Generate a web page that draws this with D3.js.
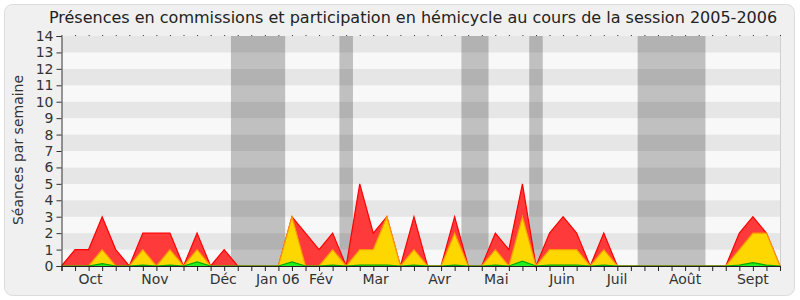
<!DOCTYPE html>
<html>
<head>
<meta charset="utf-8">
<script src="https://cdn.jsdelivr.net/npm/d3@7"></script>
<style>
  body { margin: 0; background: #fff; }
  svg { display: block; font-family: "DejaVu Sans", sans-serif; }
</style>
</head>
<body>
<svg id="chart" width="800" height="300"></svg>
<script>
// one value per week, session 2005-2006
var hemicycle  = [0,1,1,3,1,0,2,2,2,0,2,0,1,0,0,0,0,3,2,1,2,0,5,2,3,0,3,0,0,3,0,0,2,1,5,0,2,3,2,0,2,0,0,0,0,0,0,0,0,0,2,3,2,0];
var commission = [0,0,0,1,0,0,1,0,1,0,1,0,0,0,0,0,0,3,0,0,1,0,1,1,3,0,1,0,0,2,0,0,1,0,3,0,1,1,1,0,1,0,0,0,0,0,0,0,0,0,1,2,2,0];
var interventions = [0,0,0,0.15,0,0,0.05,0,0.05,0,0.25,0,0,0,0,0,0,0.25,0,0,0.05,0,0.05,0.05,0.05,0,0.05,0,0,0.05,0,0,0.05,0,0.3,0,0.05,0.05,0.05,0,0.05,0,0,0,0,0,0,0,0,0,0.05,0.2,0.05,0];
var vacances = [[13,16],[21,21],[30,31],[35,35],[43,47]];
var mois = ["Oct","Nov","Déc","Jan 06","Fév","Mar","Avr","Mai","Juin","Juil","Août","Sept"];
var moisPos = [2.14,6.89,11.93,15.96,19.14,23.17,27.9,32.07,36.92,40.98,46.0,51.0];
var yTicks = d3.range(0, 15);

var svg = d3.select("#chart");
var pLeft = 61.5, pRight = 780, pTop = 36, pBottom = 266;

svg.append("rect").attr("x", 4.5).attr("y", 4.5).attr("width", 790).attr("height", 291)
  .attr("rx", 8).attr("fill", "#f0f0f0").attr("stroke", "#dcdcdc");

var x = d3.scaleLinear().domain([0, hemicycle.length - 1]).range([pLeft, pRight]);
var y = d3.scaleLinear().domain([0, 14]).range([pBottom, pTop]);

// bandes de fond
svg.append("g").selectAll("rect").data(d3.range(0, 14)).enter().append("rect")
  .attr("x", pLeft).attr("width", pRight - pLeft)
  .attr("y", function(d) { return y(d + 1); })
  .attr("height", function(d) { return y(d) - y(d + 1); })
  .attr("fill", function(d) { return d % 2 ? "#e6e6e6" : "#f8f8f8"; });

svg.append("line").attr("x1", pRight + 0.5).attr("x2", pRight + 0.5).attr("y1", pTop).attr("y2", pBottom)
  .attr("stroke", "#d0d0d0");

// vacances parlementaires
svg.append("g").selectAll("rect").data(vacances).enter().append("rect")
  .attr("x", function(d) { return x(d[0] - 0.5); })
  .attr("width", function(d) { return x(d[1] + 0.5) - x(d[0] - 0.5); })
  .attr("y", pTop).attr("height", pBottom - pTop)
  .attr("fill", "#000").attr("fill-opacity", 0.225);

function aire(vals, fill, stroke) {
  var a = d3.area().x(function(d, i) { return x(i); }).y0(pBottom).y1(function(d) { return y(d); });
  var l = d3.line().x(function(d, i) { return x(i); }).y(function(d) { return y(d); });
  svg.append("path").datum(vals).attr("d", a).attr("fill", fill);
  svg.append("path").datum(vals).attr("d", l).attr("fill", "none").attr("stroke", stroke).attr("stroke-width", 1.2);
}
aire(hemicycle, "#ff3a3a", "#ff0000");
aire(commission, "#ffd700", "#ff9900");
aire(interventions, "#22ee22", "#00aa00");

// axes
var yAxis = svg.append("g").attr("transform", "translate(" + pLeft + ",0)")
  .call(d3.axisLeft(y).tickValues(yTicks).tickSize(5).tickPadding(3));
yAxis.selectAll("text").attr("font-size", 14).attr("fill", "#333").attr("font-family", "DejaVu Sans");
yAxis.selectAll("line,path").attr("stroke", "#333");

var xAxis = svg.append("g").attr("transform", "translate(0," + pBottom + ")")
  .call(d3.axisBottom(x).tickValues(d3.range(0, hemicycle.length)).tickSize(5).tickFormat(""));
xAxis.selectAll("line,path").attr("stroke", "#222");

var xTop = svg.append("g").attr("transform", "translate(0," + pTop + ")")
  .call(d3.axisTop(x).tickValues(d3.range(0, hemicycle.length)).tickSize(1).tickFormat(""));
xTop.select(".domain").remove();
xTop.selectAll("line").attr("stroke", "#333");

svg.append("g").selectAll("text").data(mois).enter().append("text")
  .attr("x", function(d, i) { return x(moisPos[i]); })
  .attr("y", 284).attr("text-anchor", "middle").attr("font-size", 14).attr("fill", "#333")
  .text(function(d) { return d; });

svg.append("text").attr("transform", "translate(23,150) rotate(-90)")
  .attr("text-anchor", "middle").attr("font-size", 14).attr("fill", "#333")
  .text("Séances par semaine");

svg.append("text").attr("x", 413).attr("y", 23).attr("text-anchor", "middle")
  .attr("font-size", 16).attr("fill", "#222")
  .text("Présences en commissions et participation en hémicycle au cours de la session 2005-2006");
</script>
</body>
</html>
